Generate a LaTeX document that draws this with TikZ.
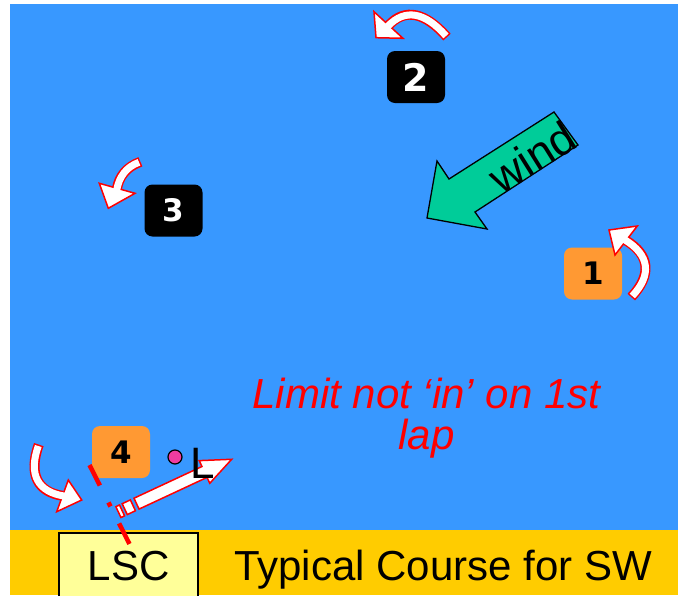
\documentclass[tikz,border=0pt]{standalone}
\usepackage{fontspec}
\setmainfont{Liberation Sans}
\newfontfamily\numfont{DejaVu Sans}
\definecolor{sea}{RGB}{56,152,255}
\definecolor{strip}{RGB}{255,204,0}
\definecolor{pale}{RGB}{255,255,153}
\definecolor{flag}{RGB}{255,153,51}
\definecolor{windc}{RGB}{0,204,153}
\definecolor{pin}{RGB}{240,60,160}
% shaft, base corner, tip, base corner
\newcommand\turnarrow[4]{%
\draw[rndout] #1;
\filldraw[rndhead] #2--#3--#4--cycle;
\draw[rndin] #1;}
\begin{document}
\begin{tikzpicture}[x=1pt,y=-1pt,
rndout/.style={red,line width=10pt,shorten <=-1.5pt},
rndin/.style={white,line width=7pt,shorten >=-2pt},
rndhead/.style={draw=red,fill=white,line width=1.5pt,line join=miter},
buoy/.style={rounded corners=8pt,minimum width=58pt,minimum height=52pt,inner sep=0pt,
  font=\numfont\bfseries\fontsize{31}{31}\selectfont},
big/.style={font=\fontsize{42}{42}\selectfont,inner sep=0pt}]
\useasboundingbox (0,0) rectangle (678,595);
\fill[sea] (10,4) rectangle (678,529.5);
\fill[strip] (10,529.5) rectangle (678,595);
% wind
\draw[fill=windc,line width=1.3pt,line join=miter] (554,112)--(449,179)--(437,161)--(427,218)
--(487,229)--(475,212)--(578,145)--cycle;
\node[rotate=32,font=\fontsize{45}{45}\selectfont,inner sep=0pt] (wind) at (532,157) {wind};
% marks
\node[buoy,fill=black,text=white,font=\numfont\bfseries\fontsize{38}{38}\selectfont] (m2) at (416,77) {2};
\node[buoy,fill=black,text=white] (m3) at (173.5,210.5) {3};
\node[buoy,fill=flag] (m1) at (593,273.5) {1};
\node[buoy,fill=flag] (m4) at (121,452) {4};
% roundings
\turnarrow{(446,36) .. controls (425,12) and (405,8) .. (389,25)}{(374,11.7)}{(376,37.7)}{(403,38.3)}
\turnarrow{(139,162.3) .. controls (126,167) and (119,177) .. (117,188.3)}{(99.3,183.3)}{(108.3,208.3)}{(135,193.3)}
\turnarrow{(632.3,296) .. controls (652,275) and (650,255) .. (626,240.5)}{(615,255)}{(609,230)}{(637.3,226)}
\turnarrow{(38.3,446) .. controls (28,475) and (38,492) .. (62.5,495.8)}{(68.3,480)}{(81.7,500)}{(56.7,511.7)}
\node[align=center,text=red,font=\itshape\fontsize{42}{41.5}\selectfont,inner sep=0pt] (limit)
at (426.5,418) {Limit not ‘in’ on 1st\\lap};
% start
\node[draw,fill=pale,line width=1.3pt,minimum width=139pt,minimum height=70pt,anchor=north west,inner sep=0pt]
(lscbox) at (58.3,532.3) {};
\node[big,anchor=base] (lsc) at (128.5,580.7) {LSC};
\node[big,anchor=base west] (title) at (234,580) {Typical Course for SW};
\coordinate (pinend) at (89.5,465);
\coordinate (boat) at (129.5,544);
\draw[red,line width=4.5pt,dash pattern=on 23pt off 19pt on 4.5pt off 19pt] (pinend)--(boat);
\begin{scope}[shift={(118.4,512.1)},rotate=25,draw=red,fill=white,line width=1.5pt]
\filldraw (0,-6) rectangle (4,6) (7,-6) rectangle (16,6);
\filldraw[line join=miter] (20,-6)--(95,-6)--(95,-12.5)--(125,0)--(95,12.5)--(95,6)--(20,6)--cycle;
\end{scope}
\node[circle,draw,fill=pin,line width=1.2pt,minimum size=14pt,inner sep=0pt] (dot) at (175,457) {};
\node[font=\fontsize{44}{44}\selectfont,inner sep=0pt,anchor=base west] (lmark) at (190,478) {L};
\end{tikzpicture}
\end{document}
